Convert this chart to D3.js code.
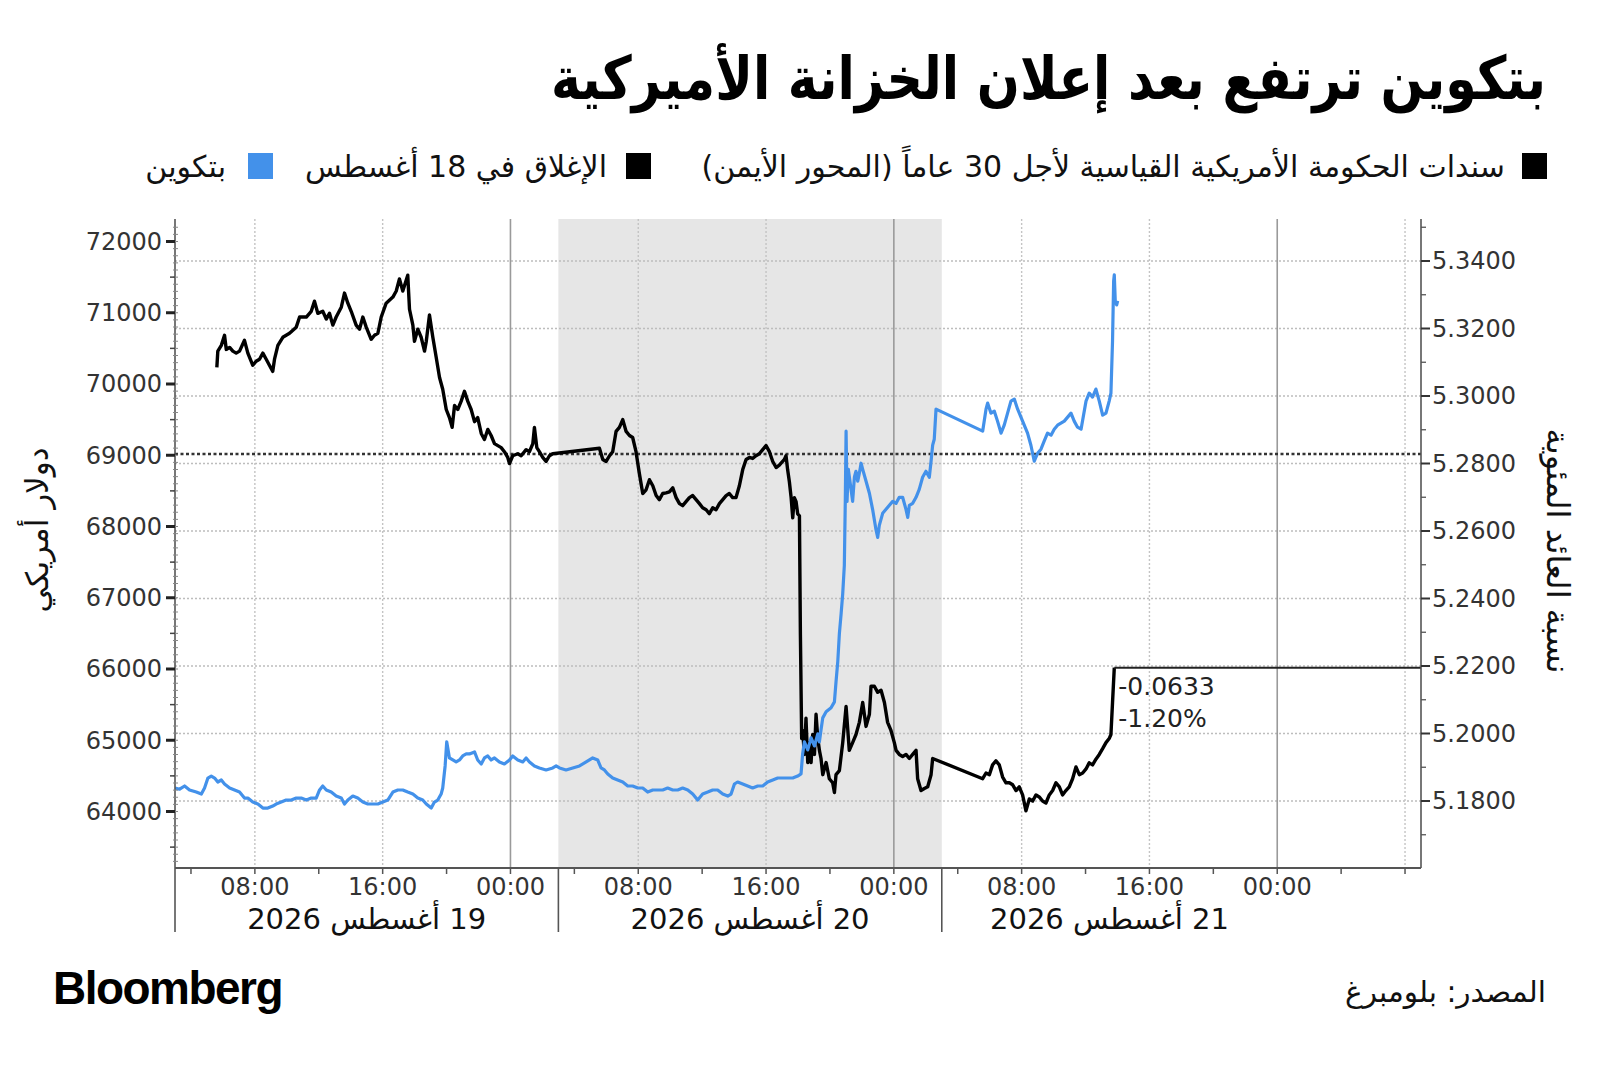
<!DOCTYPE html>
<html><head><meta charset="utf-8">
<script src="https://cdn.jsdelivr.net/npm/d3@7/dist/d3.min.js"></script>
<style>html,body{margin:0;padding:0;background:#fff}svg{display:block}</style>
</head><body>
<svg id="c" width="1600" height="1073"></svg>
<script>
// ---------------- data ----------------
const titleText = "بتكوين ترتفع بعد إعلان الخزانة الأميركية";
const legendLabels = ["سندات الحكومة الأمريكية القياسية لأجل 30 عاماً (المحور الأيمن)", "الإغلاق في 18 أغسطس", "بتكوين"];
const leftAxisTitle = "دولار أمريكي";
const rightAxisTitle = "نسبة العائد المئوية";
const sourceText = "المصدر: بلومبرغ";
const dayLabels = ["19 أغسطس 2026", "20 أغسطس 2026", "21 أغسطس 2026"];
// hours counted from 19 Aug 2026 00:00
const sessionBounds = [3, 27, 51, 72];
const shadedSession = [27, 51];
const xDomainHours = [3, 81];
const leftTicks = [64000, 65000, 66000, 67000, 68000, 69000, 70000, 71000, 72000];
const rightTicks = [5.18, 5.20, 5.22, 5.24, 5.26, 5.28, 5.30, 5.32, 5.34];
const closeAug18 = 5.2828;

// US 30Y yield [hour, yield %] (right axis)
const yieldSeries = [[5.62,5.3085],[5.68,5.3133],[5.90,5.3150],[6.10,5.3180],[6.21,5.3138],[6.42,5.3144],[6.62,5.3133],[6.83,5.3127],[7.04,5.3133],[7.35,5.3165],[7.56,5.3127],[7.87,5.3091],[8.08,5.3103],[8.29,5.3109],[8.50,5.3127],[8.71,5.3109],[8.91,5.3091],[9.12,5.3073],[9.23,5.3109],[9.44,5.3150],[9.75,5.3174],[10.17,5.3186],[10.59,5.3204],[10.80,5.3234],[11.22,5.3234],[11.53,5.3251],[11.73,5.3281],[11.94,5.3245],[12.25,5.3251],[12.47,5.3228],[12.67,5.3245],[12.88,5.3210],[13.09,5.3234],[13.41,5.3263],[13.61,5.3305],[13.82,5.3275],[14.03,5.3251],[14.34,5.3210],[14.55,5.3198],[14.76,5.3234],[14.97,5.3204],[15.28,5.3168],[15.49,5.3180],[15.70,5.3186],[15.91,5.3234],[16.22,5.3275],[16.64,5.3293],[16.85,5.3311],[17.05,5.3347],[17.26,5.3311],[17.57,5.3358],[17.68,5.3257],[17.89,5.3210],[17.99,5.3162],[18.20,5.3198],[18.41,5.3174],[18.62,5.3133],[18.73,5.3162],[18.93,5.3240],[19.14,5.3174],[19.35,5.3115],[19.56,5.3055],[19.76,5.3020],[19.98,5.2960],[20.18,5.2936],[20.35,5.2907],[20.50,5.2972],[20.70,5.2960],[20.91,5.2984],[21.12,5.3014],[21.33,5.2984],[21.54,5.2960],[21.75,5.2924],[21.95,5.2936],[22.17,5.2889],[22.37,5.2871],[22.58,5.2901],[22.79,5.2883],[23.00,5.2859],[23.21,5.2853],[23.42,5.2847],[23.62,5.2835],[23.83,5.2818],[23.94,5.2800],[24.14,5.2823],[24.46,5.2829],[24.67,5.2823],[24.98,5.2841],[25.19,5.2835],[25.40,5.2859],[25.50,5.2907],[25.65,5.2847],[25.81,5.2835],[26.02,5.2818],[26.23,5.2806],[26.44,5.2823],[26.65,5.2829],[29.57,5.2845],[29.78,5.2812],[29.99,5.2806],[30.20,5.2823],[30.40,5.2835],[30.61,5.2895],[30.82,5.2907],[31.03,5.2930],[31.24,5.2895],[31.45,5.2883],[31.65,5.2877],[31.86,5.2835],[32.07,5.2770],[32.28,5.2711],[32.49,5.2722],[32.70,5.2752],[32.91,5.2734],[33.12,5.2705],[33.32,5.2693],[33.53,5.2711],[33.74,5.2713],[33.95,5.2716],[34.16,5.2728],[34.37,5.2699],[34.58,5.2681],[34.78,5.2675],[34.99,5.2687],[35.20,5.2699],[35.41,5.2705],[35.62,5.2693],[35.83,5.2681],[36.03,5.2669],[36.25,5.2663],[36.45,5.2651],[36.66,5.2669],[36.87,5.2663],[37.08,5.2681],[37.29,5.2693],[37.50,5.2705],[37.70,5.2711],[37.91,5.2699],[38.12,5.2699],[38.33,5.2734],[38.54,5.2782],[38.75,5.2812],[38.96,5.2818],[39.16,5.2815],[39.37,5.2823],[39.58,5.2829],[39.79,5.2841],[40.00,5.2853],[40.21,5.2835],[40.42,5.2806],[40.63,5.2788],[40.83,5.2795],[41.15,5.2812],[41.25,5.2823],[41.35,5.2782],[41.46,5.2746],[41.57,5.2699],[41.67,5.2639],[41.77,5.2699],[41.88,5.2687],[41.98,5.2651],[42.09,5.2645],[42.15,5.2294],[42.23,5.1985],[42.29,5.2009],[42.40,5.1938],[42.50,5.2045],[42.61,5.1914],[42.71,5.1973],[42.82,5.1914],[42.92,5.1997],[43.03,5.1938],[43.13,5.2057],[43.24,5.1985],[43.34,5.1950],[43.44,5.1926],[43.55,5.1878],[43.76,5.1914],[43.96,5.1866],[44.17,5.1854],[44.28,5.1825],[44.38,5.1878],[44.59,5.1890],[44.80,5.1973],[45.01,5.2080],[45.21,5.1950],[45.42,5.1973],[45.63,5.1997],[45.84,5.2033],[46.05,5.2092],[46.26,5.2021],[46.47,5.2057],[46.57,5.2140],[46.78,5.2140],[46.99,5.2122],[47.20,5.2128],[47.41,5.2092],[47.61,5.2033],[47.82,5.2009],[48.03,5.1973],[48.14,5.1950],[48.34,5.1938],[48.55,5.1932],[48.76,5.1938],[48.97,5.1926],[49.18,5.1938],[49.39,5.1950],[49.49,5.1866],[49.70,5.1831],[49.91,5.1837],[50.12,5.1842],[50.33,5.1878],[50.43,5.1926],[53.56,5.1866],[53.77,5.1883],[53.98,5.1878],[54.18,5.1907],[54.39,5.1919],[54.60,5.1907],[54.81,5.1871],[55.02,5.1854],[55.23,5.1854],[55.44,5.1848],[55.65,5.1831],[55.85,5.1842],[56.06,5.1818],[56.27,5.1771],[56.48,5.1806],[56.69,5.1800],[56.90,5.1818],[57.10,5.1812],[57.31,5.1800],[57.52,5.1794],[57.73,5.1818],[57.94,5.1831],[58.15,5.1854],[58.36,5.1842],[58.56,5.1818],[58.77,5.1831],[58.98,5.1842],[59.19,5.1866],[59.40,5.1901],[59.61,5.1878],[59.82,5.1883],[60.03,5.1895],[60.23,5.1913],[60.44,5.1907],[60.65,5.1924],[60.86,5.1938],[61.07,5.1955],[61.28,5.1973],[61.48,5.1985],[61.59,5.1997],[61.69,5.2092],[61.80,5.2195]];

// Bitcoin [hour, USD] (left axis)
const bitcoinSeries = [[3.0,64330],[3.29,64313],[3.60,64358],[3.91,64302],[4.33,64273],[4.65,64245],[4.85,64330],[5.06,64470],[5.27,64498],[5.48,64470],[5.68,64414],[5.90,64442],[6.10,64386],[6.42,64330],[6.73,64302],[7.04,64273],[7.35,64189],[7.56,64189],[7.87,64133],[8.19,64105],[8.50,64048],[8.81,64048],[9.12,64077],[9.33,64105],[9.65,64133],[9.96,64161],[10.28,64161],[10.59,64189],[10.90,64189],[11.22,64161],[11.53,64189],[11.84,64189],[12.05,64302],[12.25,64358],[12.47,64302],[12.78,64273],[13.09,64217],[13.41,64189],[13.61,64105],[13.82,64161],[14.13,64217],[14.44,64189],[14.76,64133],[15.07,64105],[15.38,64105],[15.70,64105],[16.01,64133],[16.32,64161],[16.64,64273],[16.95,64302],[17.26,64302],[17.57,64273],[17.89,64245],[18.20,64189],[18.51,64161],[18.73,64105],[19.04,64048],[19.24,64133],[19.45,64161],[19.66,64245],[19.76,64330],[19.91,64639],[20.01,64977],[20.18,64752],[20.39,64723],[20.60,64695],[20.81,64723],[21.01,64780],[21.23,64808],[21.43,64808],[21.75,64836],[21.95,64723],[22.17,64667],[22.37,64752],[22.58,64780],[22.79,64723],[23.00,64752],[23.31,64695],[23.62,64667],[23.94,64723],[24.14,64780],[24.46,64723],[24.77,64695],[24.98,64752],[25.19,64695],[25.50,64639],[25.81,64611],[26.23,64583],[26.65,64611],[26.86,64639],[27.07,64611],[27.48,64583],[27.90,64611],[28.32,64639],[28.74,64695],[29.15,64752],[29.46,64723],[29.67,64611],[29.88,64583],[30.09,64527],[30.40,64470],[30.71,64442],[31.03,64414],[31.34,64358],[31.65,64358],[31.97,64330],[32.28,64330],[32.59,64273],[32.91,64302],[33.22,64302],[33.53,64302],[33.84,64330],[34.16,64302],[34.47,64302],[34.78,64330],[35.10,64302],[35.41,64245],[35.72,64161],[36.03,64245],[36.35,64273],[36.66,64302],[36.97,64302],[37.29,64245],[37.60,64217],[37.81,64245],[38.02,64386],[38.22,64414],[38.54,64386],[38.85,64358],[39.16,64330],[39.48,64358],[39.79,64358],[40.10,64414],[40.42,64442],[40.73,64470],[41.25,64470],[41.67,64470],[41.98,64498],[42.19,64527],[42.29,64808],[42.40,64977],[42.61,64864],[42.82,65033],[43.03,64920],[43.24,65089],[43.34,64977],[43.44,65145],[43.55,65314],[43.76,65399],[44.07,65455],[44.28,65539],[44.38,65820],[44.49,66102],[44.59,66496],[44.70,66777],[44.80,67059],[44.90,67453],[44.96,68353],[45.01,69338],[45.07,68353],[45.15,68803],[45.32,68522],[45.42,68353],[45.53,68691],[45.63,68775],[45.74,68635],[45.84,68747],[45.95,68888],[46.05,68803],[46.26,68635],[46.47,68466],[46.67,68241],[46.88,67959],[46.99,67847],[47.09,68016],[47.30,68185],[47.51,68241],[47.72,68297],[47.93,68353],[48.14,68325],[48.34,68410],[48.55,68410],[48.76,68241],[48.87,68128],[48.97,68297],[49.18,68325],[49.39,68410],[49.59,68522],[49.80,68691],[50.01,68775],[50.22,68691],[50.33,68916],[50.43,69141],[50.53,69225],[50.64,69647],[53.56,69338],[53.77,69647],[53.87,69732],[54.08,69591],[54.29,69619],[54.49,69479],[54.71,69310],[54.91,69422],[55.12,69591],[55.33,69760],[55.54,69788],[55.75,69647],[56.06,69479],[56.37,69310],[56.58,69141],[56.79,68916],[57.00,69028],[57.21,69085],[57.41,69197],[57.62,69310],[57.84,69282],[58.04,69366],[58.25,69422],[58.46,69451],[58.67,69479],[58.88,69535],[59.09,69591],[59.29,69479],[59.50,69394],[59.72,69366],[60.03,69760],[60.23,69872],[60.44,69816],[60.65,69929],[60.86,69760],[61.07,69563],[61.28,69591],[61.48,69760],[61.59,69872],[61.69,70604],[61.76,71448],[61.80,71532],[61.86,71167],[61.95,71110],[62.01,71167]];

// ---------------- drawing ----------------
const AR = "'DejaVu Sans', sans-serif";
const svg = d3.select("#c");
const base = Date.UTC(2026, 7, 19, 0, 0);
const toDate = h => new Date(base + h * 3600e3);

const P = {l: 175, r: 1421, t: 219, b: 868};
const x = d3.scaleUtc().domain(xDomainHours.map(toDate)).range([P.l, P.r]);
const yL = d3.scaleLinear().domain([64000, 72000]).range([811.5, 241.5]);
const yR = d3.scaleLinear().domain([5.18, 5.34]).range([801, 261]);

function align(sel, mode, px) {
  const b = sel.node().getBBox();
  const cur = +sel.attr("x") || 0;
  let dx;
  if (mode === "right") dx = px - (b.x + b.width);
  else if (mode === "left") dx = px - b.x;
  else dx = px - (b.x + b.width / 2);
  sel.attr("x", cur + dx);
  return sel;
}
function fit(sel, w) {
  const b = sel.node().getBBox();
  const fs = parseFloat(sel.attr("font-size"));
  sel.attr("font-size", fs * w / b.width);
  return sel;
}
function rtl(parent, str, fs, y, weight) {
  return parent.append("text").attr("direction", "rtl").attr("x", 0).attr("y", y)
    .attr("font-family", AR).attr("font-size", fs).attr("font-weight", weight || "normal")
    .attr("fill", "#111").text(str);
}

// Title (slightly stretched vertically to match the condensed heavy headline face)
const tg = svg.append("g").attr("transform", "translate(0,99) scale(1,1.18)");
const t = rtl(tg, titleText, 56, 0, "bold").attr("fill", "#000");
fit(t, 995); align(t, "right", 1546);

// Legend
const lg = svg.append("g");
const legendColors = ["#000", "#000", "#4391ea"];
const sqRight = [1547, 651, 273];
const txtRight = [1505, 607, 226];
const txtW = [821, 309, 89];
legendLabels.forEach((s, i) => {
  lg.append("rect").attr("x", sqRight[i] - 25).attr("y", 153).attr("width", 25).attr("height", 26).attr("fill", legendColors[i]);
  const tx = rtl(lg, s, 27, 177);
  fit(tx, txtW[i]);
  const fs = Math.max(24, Math.min(30, +tx.attr("font-size")));
  tx.attr("font-size", fs);
  align(tx, "right", txtRight[i]);
});

// Plot background & shading
svg.append("rect").attr("x", P.l).attr("y", P.t).attr("width", P.r - P.l).attr("height", P.b - P.t).attr("fill", "#fff");
svg.append("rect").attr("x", x(toDate(shadedSession[0]))).attr("y", P.t)
  .attr("width", x(toDate(shadedSession[1])) - x(toDate(shadedSession[0]))).attr("height", P.b - P.t).attr("fill", "#e6e6e6");

// Gridlines
const grid = svg.append("g");
grid.selectAll("line.h").data(rightTicks).join("line")
  .attr("x1", P.l).attr("x2", P.r).attr("y1", d => yR(d)).attr("y2", d => yR(d))
  .attr("stroke", "#bdbdbd").attr("stroke-width", 1.4).attr("stroke-dasharray", "2,2");
const hourTicks = x.ticks(d3.utcHour.every(8));
grid.selectAll("line.v").data(hourTicks).join("line")
  .attr("x1", d => x(d)).attr("x2", d => x(d)).attr("y1", P.t).attr("y2", P.b)
  .attr("stroke", d => d.getUTCHours() === 0 ? "#9a9a9a" : "#c4c4c4")
  .attr("stroke-width", d => d.getUTCHours() === 0 ? 1.6 : 1.4)
  .attr("stroke-dasharray", d => d.getUTCHours() === 0 ? null : "2,2");

// Close line (18 Aug)
svg.append("line").attr("x1", P.l).attr("x2", P.r).attr("y1", yR(closeAug18)).attr("y2", yR(closeAug18))
  .attr("stroke", "#333").attr("stroke-width", 2.6).attr("stroke-dasharray", "3,2.5");

// Series
svg.append("clipPath").attr("id", "clip").append("rect").attr("x", P.l).attr("y", P.t).attr("width", P.r - P.l).attr("height", P.b - P.t);
const lineR = d3.line().x(d => x(toDate(d[0]))).y(d => yR(d[1]));
const lineL = d3.line().x(d => x(toDate(d[0]))).y(d => yL(d[1]));
svg.append("path").datum(yieldSeries).attr("d", lineR).attr("fill", "none").attr("stroke", "#000")
  .attr("stroke-width", 3.4).attr("stroke-linejoin", "round").attr("clip-path", "url(#clip)");
svg.append("path").datum(bitcoinSeries).attr("d", lineL).attr("fill", "none").attr("stroke", "#4391ea")
  .attr("stroke-width", 3.2).attr("stroke-linejoin", "round").attr("clip-path", "url(#clip)");

// Annotation of last yield change
const last = yieldSeries[yieldSeries.length - 1];
const diff = last[1] - closeAug18;
const fmt4 = d3.format(".4f"), fmtPct = d3.format(".2f");
svg.append("line").attr("x1", x(toDate(last[0]))).attr("x2", P.r).attr("y1", yR(last[1])).attr("y2", yR(last[1]))
  .attr("stroke", "#222").attr("stroke-width", 2);
const ann = svg.append("g").attr("font-family", "'DejaVu Sans', sans-serif").attr("font-size", 25).attr("fill", "#222");
ann.append("text").attr("x", x(toDate(last[0])) + 4).attr("y", yR(last[1]) + 27).text(fmt4(diff).replace("−", "-"));
ann.append("text").attr("x", x(toDate(last[0])) + 4).attr("y", yR(last[1]) + 59).text(fmtPct(diff / closeAug18 * 100).replace("−", "-") + "%");

// Left axis
const axL = svg.append("g");
axL.append("line").attr("x1", P.l).attr("x2", P.l).attr("y1", P.t).attr("y2", 932).attr("stroke", "#555").attr("stroke-width", 1.6);
const fineL = d3.range(63300, 72300, 100);
axL.selectAll("line.f").data(fineL).join("line").attr("x1", P.l - 2).attr("x2", P.l + 3)
  .attr("y1", d => yL(d)).attr("y2", d => yL(d)).attr("stroke", "#888").attr("stroke-width", 1);
const minorL = leftTicks.slice(0, -1).map(v => v + 500).concat([63500]);
axL.selectAll("line.m").data(minorL).join("line").attr("x1", P.l - 5).attr("x2", P.l)
  .attr("y1", d => yL(d)).attr("y2", d => yL(d)).attr("stroke", "#444").attr("stroke-width", 1.5);
axL.selectAll("line.M").data(leftTicks).join("line").attr("x1", P.l - 9).attr("x2", P.l)
  .attr("y1", d => yL(d)).attr("y2", d => yL(d)).attr("stroke", "#222").attr("stroke-width", 3);
axL.selectAll("text").data(leftTicks).join("text").attr("x", P.l - 13).attr("y", d => yL(d)).attr("dy", "0.35em")
  .attr("text-anchor", "end").attr("font-family", "'DejaVu Sans', sans-serif").attr("font-size", 24).attr("fill", "#333").text(d => d);

// Right axis
const axR = svg.append("g");
axR.append("line").attr("x1", P.r).attr("x2", P.r).attr("y1", P.t).attr("y2", P.b).attr("stroke", "#555").attr("stroke-width", 1.6);
const minorR = rightTicks.map(v => v + 0.01).concat([5.17]);
axR.selectAll("line.m").data(minorR).join("line").attr("x1", P.r).attr("x2", P.r + 5)
  .attr("y1", d => yR(d)).attr("y2", d => yR(d)).attr("stroke", "#555").attr("stroke-width", 1.3);
axR.selectAll("line.M").data(rightTicks).join("line").attr("x1", P.r).attr("x2", P.r + 9)
  .attr("y1", d => yR(d)).attr("y2", d => yR(d)).attr("stroke", "#333").attr("stroke-width", 2);
axR.selectAll("text").data(rightTicks).join("text").attr("x", P.r + 11).attr("y", d => yR(d)).attr("dy", "0.35em")
  .attr("font-family", "'DejaVu Sans', sans-serif").attr("font-size", 24).attr("fill", "#333").text(d => d3.format(".4f")(d));

// Bottom axis
const axB = svg.append("g");
axB.append("line").attr("x1", P.l).attr("x2", P.r).attr("y1", P.b).attr("y2", P.b).attr("stroke", "#555").attr("stroke-width", 1.8);
const tick4 = x.ticks(d3.utcHour.every(4));
axB.selectAll("line.t").data(tick4).join("line").attr("x1", d => x(d)).attr("x2", d => x(d))
  .attr("y1", P.b).attr("y2", P.b + 6).attr("stroke", "#555").attr("stroke-width", 1.5);
axB.selectAll("text.t").data(hourTicks.filter(d => x(d) < P.r - 30)).join("text").attr("x", d => x(d)).attr("y", 895)
  .attr("text-anchor", "middle").attr("font-family", "'DejaVu Sans', sans-serif").attr("font-size", 24).attr("fill", "#333")
  .text(d => d3.utcFormat("%H:%M")(d));
axB.selectAll("line.s").data(sessionBounds.slice(1, 3)).join("line").attr("x1", d => x(toDate(d))).attr("x2", d => x(toDate(d)))
  .attr("y1", P.b).attr("y2", 932).attr("stroke", "#555").attr("stroke-width", 1.6);
dayLabels.forEach((s, i) => {
  const cx = x(toDate((sessionBounds[i] + sessionBounds[i + 1]) / 2));
  const tx = rtl(axB, s, 29, 929);
  align(tx, "center", cx);
});

// Axis titles
const gl = svg.append("g").attr("transform", "translate(39,530) rotate(-90)");
const tl = rtl(gl, leftAxisTitle, 26, 9); fit(tl, 165); align(tl, "center", 0);
const gr = svg.append("g").attr("transform", "translate(1556,551) rotate(90)");
const tr = rtl(gr, rightAxisTitle, 26, 9); fit(tr, 245); align(tr, "center", 0);

// Footer
const bb = svg.append("text").attr("x", 53).attr("y", 1004).attr("font-family", "'Liberation Sans', Arial, sans-serif")
  .attr("font-weight", "bold").attr("font-size", 46).attr("letter-spacing", -1.5).attr("fill", "#000").text("Bloomberg");
fit(bb, 229); align(bb, "left", 53);
const src = rtl(svg, sourceText, 28, 1002).attr("fill", "#111");
fit(src, 201); align(src, "right", 1546);
</script>
</body></html>
